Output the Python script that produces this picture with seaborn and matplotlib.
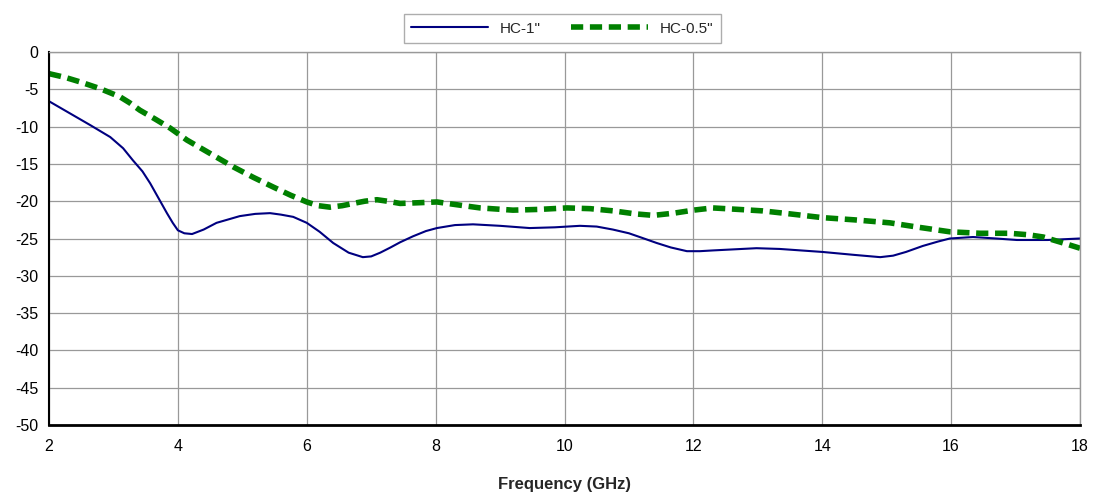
import pandas as pd
import numpy as np
import matplotlib.pyplot as plt
import seaborn as sns

# values
freq_hc1 = [2.0, 2.3, 2.64, 2.95, 3.15, 3.3, 3.45, 3.57, 3.7, 3.83, 3.92, 4.0, 4.1,
            4.22, 4.4, 4.6, 4.8, 4.96, 5.2, 5.43, 5.6, 5.79, 6.0, 6.2, 6.41, 6.65,
            6.87, 7.0, 7.14, 7.3, 7.45, 7.65, 7.85, 8.02, 8.3, 8.58, 9.0, 9.46,
            9.85, 10.24, 10.5, 10.75, 11.0, 11.2, 11.43, 11.65, 11.9, 12.1, 12.3,
            12.98, 13.34, 14.0, 14.5, 14.9, 15.1, 15.3, 15.56, 15.8, 15.98, 16.34,
            16.7, 17.02, 17.5, 18.0]
loss_hc1 = [-6.6, -8.1, -9.8, -11.4, -12.9, -14.5, -16.0, -17.6, -19.6, -21.6,
            -22.9, -23.9, -24.3, -24.4, -23.8, -22.9, -22.4, -22.0, -21.7, -21.6,
            -21.8, -22.1, -22.9, -24.1, -25.6, -26.9, -27.5, -27.4, -26.9, -26.2,
            -25.5, -24.7, -24.0, -23.6, -23.2, -23.1, -23.3, -23.6, -23.5, -23.3,
            -23.4, -23.8, -24.3, -24.9, -25.6, -26.2, -26.7, -26.7, -26.6, -26.3,
            -26.4, -26.8, -27.2, -27.5, -27.3, -26.8, -26.0, -25.4, -25.0, -24.8,
            -25.0, -25.2, -25.2, -25.0]

freq_hc05 = [2.0, 2.25, 2.48, 2.79, 3.1, 3.25, 3.41, 3.65, 3.88, 4.14, 4.5, 4.86,
             5.17, 5.48, 5.75, 6.0, 6.18, 6.36, 6.55, 6.72, 6.9, 7.09, 7.25, 7.45,
             7.75, 8.02, 8.35, 8.69, 9.2, 9.6, 10.04, 10.4, 10.76, 11.1, 11.38,
             11.7, 12.0, 12.3, 12.7, 13.08, 13.5, 14.0, 14.5, 15.05, 15.5, 15.98,
             16.45, 16.91, 17.2, 17.43, 17.7, 18.0]
loss_hc05 = [-2.9, -3.4, -4.0, -4.9, -6.0, -6.8, -7.8, -9.0, -10.2, -11.8, -13.6,
             -15.4, -16.8, -18.1, -19.2, -20.1, -20.6, -20.8, -20.6, -20.3, -20.0,
             -19.8, -20.0, -20.3, -20.2, -20.1, -20.5, -20.9, -21.2, -21.1, -20.9,
             -21.0, -21.3, -21.7, -21.9, -21.6, -21.2, -20.9, -21.1, -21.3, -21.7,
             -22.2, -22.5, -22.9, -23.5, -24.1, -24.3, -24.3, -24.5, -24.8, -25.5,
             -26.3]

sns.set_style('white')
plt.rcParams['font.family'] = ['Liberation Sans', 'DejaVu Sans']
plt.rcParams['axes.unicode_minus'] = False

fig = plt.figure(figsize=(10.99, 4.94), dpi=100)
ax = fig.add_axes([0.0446, 0.1397, 0.9381, 0.755])

sns.lineplot(x=freq_hc1, y=loss_hc1, ax=ax, color='#000080', linewidth=1.5,
             label='HC-1"')
sns.lineplot(x=freq_hc05, y=loss_hc05, ax=ax, color='#008000', linewidth=4,
             linestyle=(0, (2.2, 1.2)), label='HC-0.5"')

ax.set_xlim(2, 18)
ax.set_ylim(-50, 0)
ax.set_xticks(range(2, 19, 2))
ax.set_yticks(range(-50, 1, 5))
ax.grid(True, color='#999999', linewidth=0.9)
ax.set_axisbelow(True)

for side in ['top', 'right']:
    ax.spines[side].set_color('#999999')
    ax.spines[side].set_linewidth(1)
ax.spines['left'].set_color('black')
ax.spines['left'].set_linewidth(1.5)
ax.spines['bottom'].set_color('black')
ax.spines['bottom'].set_linewidth(2)

ax.tick_params(axis='both', labelsize=11.5, direction='out', length=4,
               colors='black', width=1)
ax.tick_params(axis='x', pad=6)
ax.set_xlabel('Frequency (GHz)', fontsize=12, fontweight='bold', labelpad=17)
ax.set_ylabel('')

ax.legend(loc='center', bbox_to_anchor=(0.498, 1.063), ncol=2, fontsize=11,
          frameon=True, fancybox=False, edgecolor='#999999', handlelength=5,
          columnspacing=2, borderpad=0.5)

fig.savefig('out.png', dpi=100)
